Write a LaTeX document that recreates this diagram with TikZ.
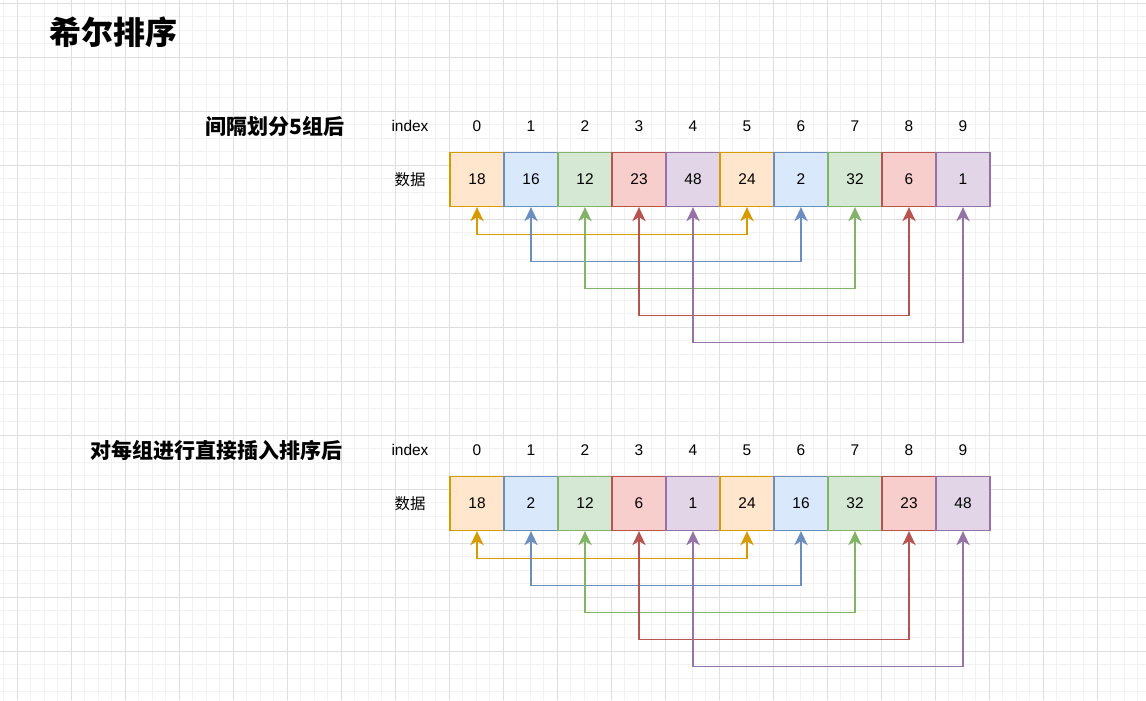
\documentclass[tikz,border=0pt]{standalone}
\usepackage{fontspec}
\setmainfont{Liberation Sans}
\newfontfamily\cjk{Noto Sans CJK SC}
\usetikzlibrary{arrows.meta}
\definecolor{gmajor}{HTML}{DEDEDE}
\definecolor{gminor}{HTML}{F2F2F2}
\definecolor{ofill}{HTML}{FFE6CC}\definecolor{oline}{HTML}{D79B00}
\definecolor{bfill}{HTML}{DAE8FC}\definecolor{bline}{HTML}{6C8EBF}
\definecolor{gfill}{HTML}{D5E8D4}\definecolor{gline}{HTML}{82B366}
\definecolor{rfill}{HTML}{F8CECC}\definecolor{rline}{HTML}{B85450}
\definecolor{pfill}{HTML}{E1D5E7}\definecolor{pline}{HTML}{9673A6}
\tikzset{
  cell/.style={draw=#1line, fill=#1fill, line width=1pt, minimum width=40.5pt, minimum height=40.5pt, inner sep=0pt, font=\fontsize{11.6}{13}\selectfont},
  lbl/.style={inner sep=0pt, font=\fontsize{11.6}{13}\selectfont},
  cjklbl/.style={inner sep=0pt, font=\cjk\fontsize{11.6}{13}\selectfont},
  heading/.style={inner sep=0pt, font=\cjk\bfseries\fontsize{15.75}{18}\selectfont},
  titlefont/.style={inner sep=0pt, font=\cjk\bfseries\fontsize{24}{28}\selectfont},
  link/.style={draw=#1line, line width=1pt, {Stealth[length=10.5pt,width=10pt,inset=3pt]}-{Stealth[length=10.5pt,width=10pt,inset=3pt]}}
}
\begin{document}
\begin{tikzpicture}[x=0.75pt,y=-0.75pt]
\useasboundingbox (0,0) rectangle (1146,700);
\fill[white] (0,0) rectangle (1146,700);
% minor grid
\foreach \i in {0,...,84} {\draw[gminor, line width=0.75pt] ({3.8+13.5*\i},0) -- ({3.8+13.5*\i},700);}
\foreach \i in {0,...,51} {\draw[gminor, line width=0.75pt] (0,{3.3+13.5*\i}) -- (1146,{3.3+13.5*\i});}
% major grid
\foreach \i in {0,...,21} {\draw[gmajor, line width=0.75pt] ({17.3+54*\i},0) -- ({17.3+54*\i},700);}
\foreach \i in {0,...,12} {\draw[gmajor, line width=0.75pt] (0,{3.3+54*\i}) -- (1146,{3.3+54*\i});}

\node[titlefont] (title) at (113,32) {希尔排序};
\node[heading, anchor=east] (h1) at (345,126) {间隔划分5组后};
\node[heading, anchor=east] (h2) at (343,450.5) {对每组进行直接插入排序后};

% top array
\node[lbl] (ti) at (410,126) {index};
\node[cjklbl] (td) at (410,180) {数据};
\foreach \v [count=\k from 0] in {0,...,9} {\node[lbl] (tx\k) at ({477+54*\k},126) {\v};}
\foreach \v/\c [count=\k from 0] in {18/o,16/b,12/g,23/r,48/p,24/o,2/b,32/g,6/r,1/p} {\node[cell=\c] (t\k) at ({477+54*\k},179.5) {\v};}
\draw[link=o] (t0.south) -- ++(0,27) -| (t5.south);
\draw[link=b] (t1.south) -- ++(0,54) -| (t6.south);
\draw[link=g] (t2.south) -- ++(0,81) -| (t7.south);
\draw[link=r] (t3.south) -- ++(0,108) -| (t8.south);
\draw[link=p] (t4.south) -- ++(0,135) -| (t9.south);

% bottom array
\node[lbl] (bi) at (410,450) {index};
\node[cjklbl] (bd) at (410,504) {数据};
\foreach \v [count=\k from 0] in {0,...,9} {\node[lbl] (bx\k) at ({477+54*\k},450) {\v};}
\foreach \v/\c [count=\k from 0] in {18/o,2/b,12/g,6/r,1/p,24/o,16/b,32/g,23/r,48/p} {\node[cell=\c] (b\k) at ({477+54*\k},503.5) {\v};}
\draw[link=o] (b0.south) -- ++(0,27) -| (b5.south);
\draw[link=b] (b1.south) -- ++(0,54) -| (b6.south);
\draw[link=g] (b2.south) -- ++(0,81) -| (b7.south);
\draw[link=r] (b3.south) -- ++(0,108) -| (b8.south);
\draw[link=p] (b4.south) -- ++(0,135) -| (b9.south);
\end{tikzpicture}
\end{document}
